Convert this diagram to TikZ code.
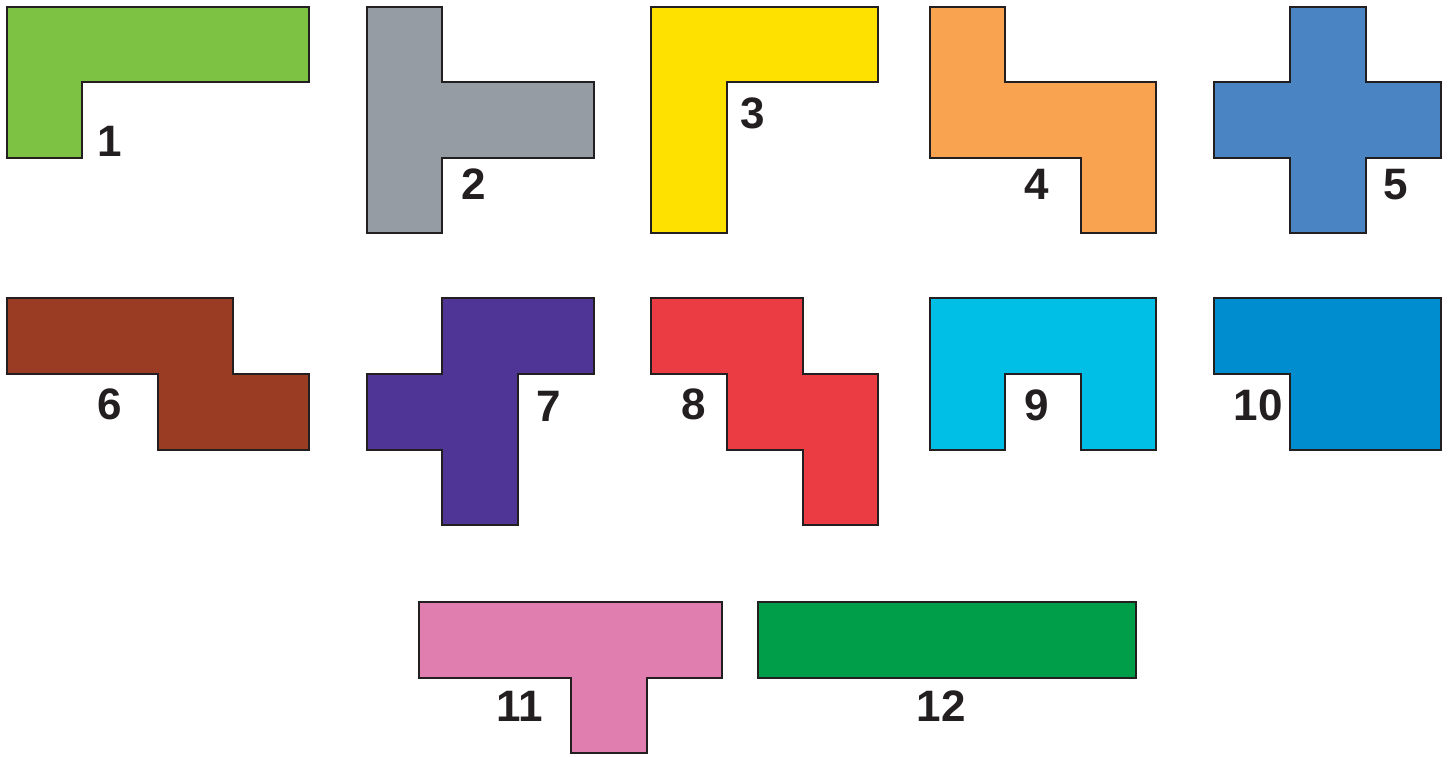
\documentclass[tikz,border=0pt]{standalone}
\usepackage{fontspec}
\setmainfont{Liberation Sans}
\definecolor{c1}{HTML}{7DC242}
\definecolor{c2}{HTML}{959CA3}
\definecolor{c3}{HTML}{FFE100}
\definecolor{c4}{HTML}{F9A350}
\definecolor{c5}{HTML}{4B84C3}
\definecolor{c6}{HTML}{9A3B23}
\definecolor{c7}{HTML}{4F3595}
\definecolor{c8}{HTML}{EC3C43}
\definecolor{c9}{HTML}{00BFE6}
\definecolor{c10}{HTML}{008DCF}
\definecolor{c11}{HTML}{E07EB0}
\definecolor{c12}{HTML}{009E49}
\definecolor{edge}{HTML}{231F20}
\tikzset{
  piece/.style={draw=edge, line width=2.6pt, line join=miter, fill=#1},
  lbl/.style={inner sep=0pt, font=\fontsize{44}{44}\selectfont\bfseries, text=edge}
}
\begin{document}
\begin{tikzpicture}[x=1pt,y=-1pt]
\useasboundingbox (0,0) rectangle (1448,756);
% 1
\path[piece=c1] (7,7) -- (309,7) -- (309,82) -- (82,82) -- (82,158) -- (7,158) -- cycle;
\node[lbl] (l1) at (110,141) {1};
% 2
\path[piece=c2] (367,7) -- (442,7) -- (442,82) -- (594,82) -- (594,158) -- (442,158) -- (442,233) -- (367,233) -- cycle;
\node[lbl] (l2) at (474,184) {2};
% 3
\path[piece=c3] (651,7) -- (878,7) -- (878,82) -- (727,82) -- (727,233) -- (651,233) -- cycle;
\node[lbl] (l3) at (753,113) {3};
% 4
\path[piece=c4] (930,7) -- (1005,7) -- (1005,82) -- (1156,82) -- (1156,233) -- (1081,233) -- (1081,158) -- (930,158) -- cycle;
\node[lbl] (l4) at (1037,184) {4};
% 5
\path[piece=c5] (1290,7) -- (1366,7) -- (1366,82) -- (1441,82) -- (1441,158) -- (1366,158) -- (1366,233) -- (1290,233) -- (1290,158) -- (1214,158) -- (1214,82) -- (1290,82) -- cycle;
\node[lbl] (l5) at (1396,185) {5};
% 6
\path[piece=c6] (7,298) -- (233,298) -- (233,374) -- (309,374) -- (309,450) -- (158,450) -- (158,374) -- (7,374) -- cycle;
\node[lbl] (l6) at (110,404) {6};
% 7
\path[piece=c7] (442,298) -- (594,298) -- (594,374) -- (518,374) -- (518,525) -- (442,525) -- (442,450) -- (367,450) -- (367,374) -- (442,374) -- cycle;
\node[lbl] (l7) at (549,406) {7};
% 8
\path[piece=c8] (651,298) -- (803,298) -- (803,374) -- (878,374) -- (878,525) -- (803,525) -- (803,450) -- (727,450) -- (727,374) -- (651,374) -- cycle;
\node[lbl] (l8) at (694,404) {8};
% 9
\path[piece=c9] (930,298) -- (1156,298) -- (1156,450) -- (1081,450) -- (1081,374) -- (1005,374) -- (1005,450) -- (930,450) -- cycle;
\node[lbl] (l9) at (1037,405) {9};
% 10
\path[piece=c10] (1214,298) -- (1441,298) -- (1441,450) -- (1290,450) -- (1290,374) -- (1214,374) -- cycle;
\node[lbl] (l10) at (1258,405) {10};
% 11
\path[piece=c11] (419,602) -- (722,602) -- (722,678) -- (647,678) -- (647,753) -- (571,753) -- (571,678) -- (419,678) -- cycle;
\node[lbl] (l11) at (520,706) {11};
% 12
\path[piece=c12] (758,602) -- (1136,602) -- (1136,678) -- (758,678) -- cycle;
\node[lbl] (l12) at (941,706) {12};
\end{tikzpicture}
\end{document}
